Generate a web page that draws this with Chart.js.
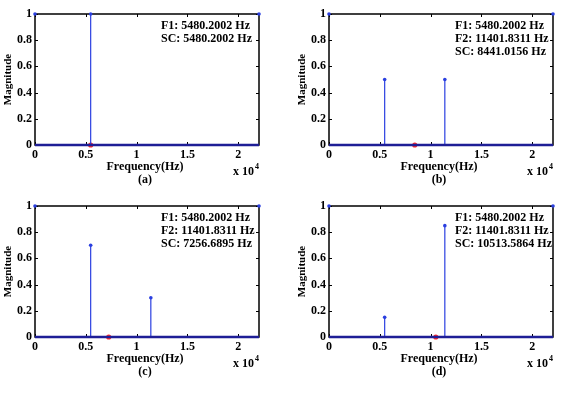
<!DOCTYPE html>
<html><head><meta charset="utf-8">
<script src="https://cdn.jsdelivr.net/npm/chart.js@4.4.0/dist/chart.umd.min.js"></script>
<style>
html,body{margin:0;padding:0;background:#fff;width:576px;height:394px;overflow:hidden}
.c{position:absolute;width:282px;height:197px}
canvas{display:block}
</style></head><body>
<div class="c" style="left:0;top:0"><canvas id="c0" width="282" height="197"></canvas></div>
<div class="c" style="left:294px;top:0"><canvas id="c1" width="282" height="197"></canvas></div>
<div class="c" style="left:0;top:192px"><canvas id="c2" width="282" height="197"></canvas></div>
<div class="c" style="left:294px;top:192px"><canvas id="c3" width="282" height="197"></canvas></div>
<script>
// ---- data ----
const F1 = 5480.2002;
const F2 = 11401.8311;
const nyquist = 22050;
const panelLabels = ['(a)', '(b)', '(c)', '(d)'];
const stemFreqs = [[F1], [F1, F2], [F1, F2], [F1, F2]];
const stemMags = [[1], [0.5, 0.5], [0.7, 0.3], [0.15, 0.85]];
const centroids = [5480.2002, 8441.0156, 7256.6895, 10513.5864];
const edgeFreqs = [0, nyquist];
const edgeMags = [1, 1];
const xTicks = [0, 5000, 10000, 15000, 20000];
const xTickLabels = ['0', '0.5', '1', '1.5', '2'];
const yTicks = [0, 0.2, 0.4, 0.6, 0.8, 1];
const yTickLabels = ['0', '0.2', '0.4', '0.6', '0.8', '1'];
const annotations = [
  ['F1: 5480.2002 Hz', 'SC: 5480.2002 Hz'],
  ['F1: 5480.2002 Hz', 'F2: 11401.8311 Hz', 'SC: 8441.0156 Hz'],
  ['F1: 5480.2002 Hz', 'F2: 11401.8311 Hz', 'SC: 7256.6895 Hz'],
  ['F1: 5480.2002 Hz', 'F2: 11401.8311 Hz', 'SC: 10513.5864 Hz']
];
const xTitle = 'Frequency(Hz)';
const yTitle = 'Magnitude';

const FONT = '"Liberation Serif", "Times New Roman", serif';
const STEM = '#2a3fe0';
const BASE = '#1e1e96';

function makeChart(i) {
  const datasets = [];
  datasets.push({
    data: [{x: 0, y: 0}, {x: nyquist, y: 0}],
    showLine: true, borderColor: BASE, borderWidth: 2.5, pointRadius: 0, clip: false
  });
  stemFreqs[i].forEach((f, k) => {
    datasets.push({
      data: [{x: f, y: 0}, {x: f, y: stemMags[i][k]}],
      showLine: true, borderColor: STEM, borderWidth: 1.2,
      pointRadius: c => c.dataIndex === 1 ? 1.8 : 0,
      pointBackgroundColor: STEM, pointBorderColor: STEM, pointBorderWidth: 0,
      clip: false
    });
  });
  datasets.push({
    data: edgeFreqs.map((f, k) => ({x: f, y: edgeMags[k]})),
    showLine: false, pointRadius: 1.8, pointBackgroundColor: STEM, pointBorderColor: STEM, pointBorderWidth: 0, clip: false
  });
  datasets.push({
    data: [{x: centroids[i], y: 0}],
    showLine: false, pointRadius: 2.6, pointBackgroundColor: '#ff2a2a', pointBorderColor: '#ff2a2a', pointBorderWidth: 0, clip: false
  });

  const framePlugin = {
    id: 'frame' + i,
    beforeDatasetsDraw(chart) {
      const {ctx, chartArea: a} = chart;
      const xs = chart.scales.x, ys = chart.scales.y;
      ctx.save();
      ctx.strokeStyle = '#000';
      ctx.lineWidth = 1.5;
      ctx.strokeRect(a.left, a.top, a.right - a.left, a.bottom - a.top);
      ctx.lineWidth = 1;
      ctx.beginPath();
      xTicks.forEach(v => {
        const px = Math.round(xs.getPixelForValue(v)) + 0.5;
        ctx.moveTo(px, a.bottom); ctx.lineTo(px, a.bottom - 3);
        ctx.moveTo(px, a.top); ctx.lineTo(px, a.top + 3);
      });
      yTicks.forEach(v => {
        const py = Math.round(ys.getPixelForValue(v)) + 0.5;
        ctx.moveTo(a.left, py); ctx.lineTo(a.left + 3, py);
        ctx.moveTo(a.right, py); ctx.lineTo(a.right - 3, py);
      });
      ctx.stroke();
      ctx.restore();
    },
    afterDraw(chart) {
      const {ctx, chartArea: a} = chart;
      const cx = (a.left + a.right) / 2;
      ctx.save();
      ctx.fillStyle = '#000';
      ctx.font = 'bold 12px ' + FONT;
      ctx.textAlign = 'center';
      ctx.textBaseline = 'middle';
      ctx.fillText(xTitle, cx - 2, a.bottom + 22);
      ctx.fillText(panelLabels[i], cx - 2, a.bottom + 35);
      // exponent label
      ctx.textAlign = 'left';
      ctx.fillText('x 10', a.right - 26, a.bottom + 27);
      ctx.font = 'bold 8px ' + FONT;
      ctx.fillText('4', a.right - 4, a.bottom + 22);
      // y title
      ctx.font = 'bold 11px ' + FONT;
      ctx.save();
      ctx.translate(a.left - 27, (a.top + a.bottom) / 2);
      ctx.rotate(-Math.PI / 2);
      ctx.textAlign = 'center';
      ctx.fillText(yTitle, 0, 0);
      ctx.restore();
      // annotations
      ctx.font = 'bold 12px ' + FONT;
      ctx.textAlign = 'left';
      annotations[i].forEach((t, k) => {
        ctx.fillText(t, a.left + 126, a.top + 12 + k * 13);
      });
      ctx.restore();
    }
  };

  return new Chart(document.getElementById('c' + i), {
    type: 'scatter',
    data: {datasets},
    options: {
      responsive: false,
      animation: false,
      events: [],
      layout: {padding: {left: 0, top: 14, right: 23, bottom: 0}},
      plugins: {legend: {display: false}, tooltip: {enabled: false}},
      scales: {
        x: {
          type: 'linear', min: 0, max: nyquist,
          afterBuildTicks: s => { s.ticks = xTicks.map(v => ({value: v})); },
          afterFit: s => { s.height = 52; },
          grid: {display: false, drawTicks: false},
          border: {display: false},
          ticks: {
            callback: v => xTickLabels[xTicks.indexOf(v)],
            font: {family: FONT, size: 12, weight: 'bold'},
            color: '#000', padding: 3, maxRotation: 0, autoSkip: false
          }
        },
        y: {
          min: 0, max: 1,
          afterBuildTicks: s => { s.ticks = yTicks.map(v => ({value: v})); },
          afterFit: s => { s.width = 35; },
          grid: {display: false, drawTicks: false},
          border: {display: false},
          ticks: {
            callback: v => yTickLabels[yTicks.indexOf(v)],
            font: {family: FONT, size: 12, weight: 'bold'},
            color: '#000', padding: 3, autoSkip: false
          }
        }
      }
    },
    plugins: [framePlugin]
  });
}
for (let i = 0; i < 4; i++) makeChart(i);
</script>
</body></html>
